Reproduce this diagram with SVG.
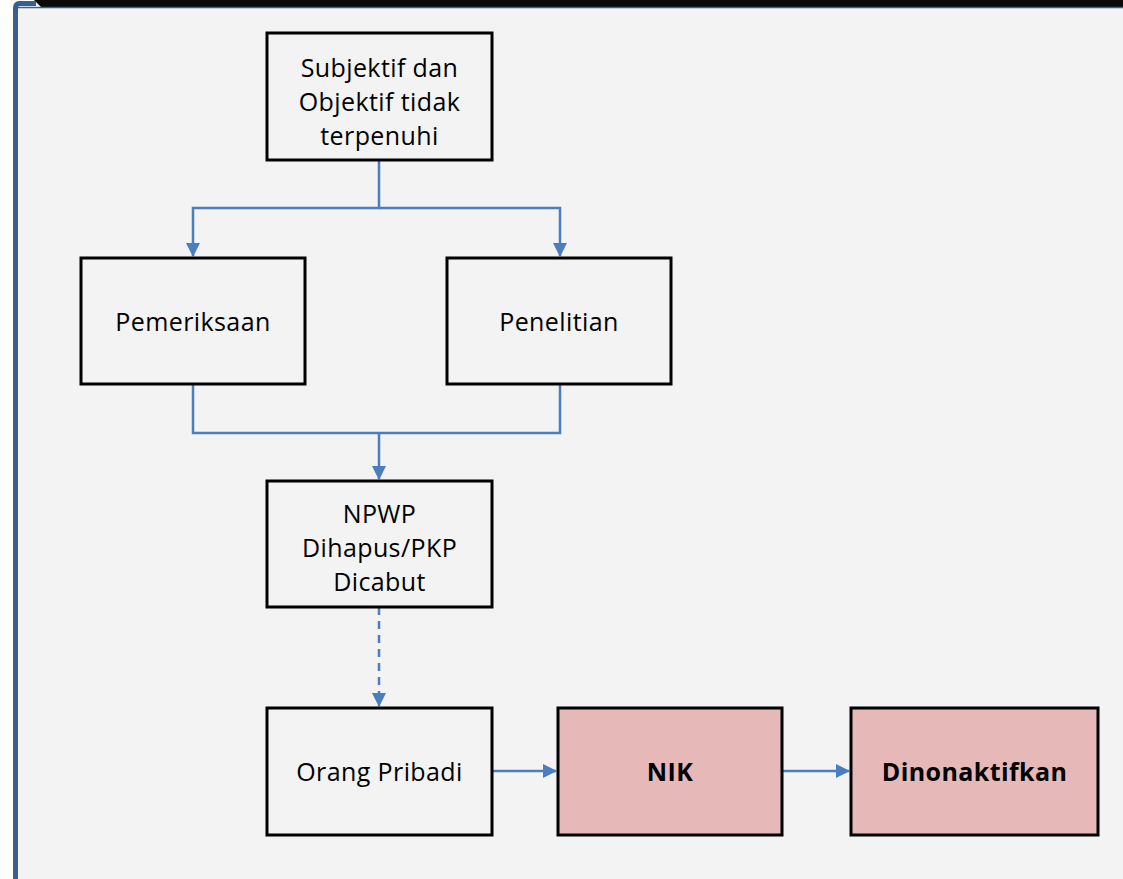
<svg xmlns="http://www.w3.org/2000/svg" width="1123" height="879" viewBox="0 0 1123 879">
<style>
.box{fill:none;stroke:#000;stroke-width:3}
.pink{fill:#e6b8b7;stroke:#000;stroke-width:3}
.t{font-family:"Open Sans","Noto Sans",sans-serif;font-size:25px;letter-spacing:0.4px;fill:#000;text-anchor:middle}
.b{font-weight:bold}
.c{fill:none;stroke:#4a7ebf;stroke-width:2.5}
</style>
<defs>
<marker id="ah" markerWidth="14" markerHeight="14" refX="13" refY="7" orient="auto" markerUnits="userSpaceOnUse">
<path d="M0,0 L14,7 L0,14 z" fill="#4a7ebf"/>
</marker>
</defs>
<rect width="1123" height="879" fill="#fff"/>
<rect x="16" y="7" width="1107" height="872" fill="#f3f3f3"/>
<polygon points="34,0 1123,0 1123,7 41,7" fill="#0a0a0a"/>
<line x1="16" y1="7.5" x2="1123" y2="7.5" stroke="#3a5f8f" stroke-width="1.5"/>
<path d="M15.5,879 V8 Q15.5,4 19,3.5 H36" fill="none" stroke="#3a5f8f" stroke-width="5"/>
<g id="connectors">
<path class="c" d="M379,160 V208 H193 V256" marker-end="url(#ah)"/>
<path class="c" d="M379,208 H560 V256" marker-end="url(#ah)"/>
<path class="c" d="M193,384 V433 H560 V384"/>
<path class="c" d="M379,433 V479" marker-end="url(#ah)"/>
<path class="c" d="M379,607 V706" stroke-dasharray="8,6" marker-end="url(#ah)"/>
<path class="c" d="M491,771 H556" marker-end="url(#ah)"/>
<path class="c" d="M782,771 H849" marker-end="url(#ah)"/>
</g>
<g id="n1"><rect class="box" x="267" y="33" width="225" height="127"/>
<text class="t" x="379.5" y="77">Subjektif dan</text>
<text class="t" x="379.5" y="111">Objektif tidak</text>
<text class="t" x="379.5" y="145">terpenuhi</text></g>
<g id="n2"><rect class="box" x="81" y="258" width="224" height="126"/>
<text class="t" x="193" y="331">Pemeriksaan</text></g>
<g id="n3"><rect class="box" x="447" y="258" width="224" height="126"/>
<text class="t" x="559" y="331">Penelitian</text></g>
<g id="n4"><rect class="box" x="267" y="481" width="225" height="126"/>
<text class="t" x="379.5" y="523">NPWP</text>
<text class="t" x="379.5" y="557">Dihapus/PKP</text>
<text class="t" x="379.5" y="591">Dicabut</text></g>
<g id="n5"><rect class="box" x="267" y="708" width="225" height="127"/>
<text class="t" x="379.5" y="781">Orang Pribadi</text></g>
<g id="n6"><rect class="pink" x="558" y="708" width="224" height="127"/>
<text class="t b" x="670" y="781">NIK</text></g>
<g id="n7"><rect class="pink" x="851" y="708" width="247" height="127"/>
<text class="t b" x="974.5" y="781">Dinonaktifkan</text></g>
</svg>
